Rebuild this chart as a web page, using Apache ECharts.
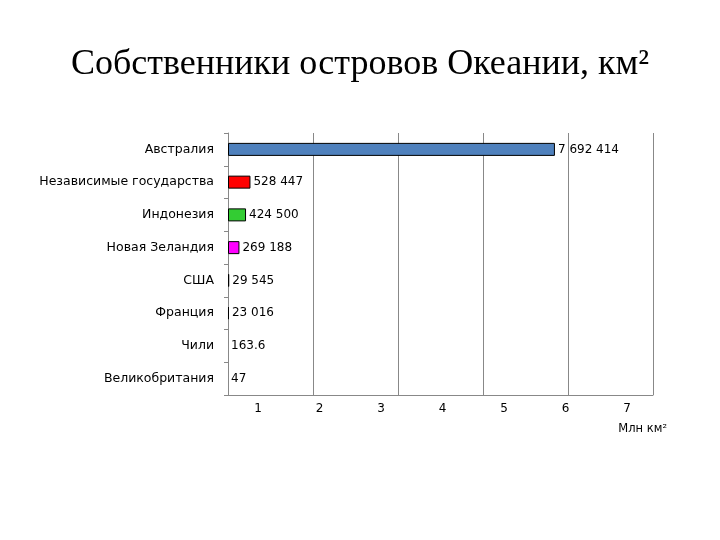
<!DOCTYPE html>
<html><head><meta charset="utf-8">
<script src="https://cdn.jsdelivr.net/npm/echarts@6/dist/echarts.min.js"></script>
<style>html,body{margin:0;background:#fff}#c{width:720px;height:540px}</style>
</head><body><div id="c"></div>
<script>
const categories = ["Австралия","Независимые государства","Индонезия","Новая Зеландия","США","Франция","Чили","Великобритания"];
const valuesMln = [7.692414, 0.528447, 0.4245, 0.269188, 0.029545, 0.023016, 0.0001636, 0.000047];
const valueLabels = ["7 692 414","528 447","424 500","269 188","29 545","23 016","163.6","47"];
const barColors = ["#4f81bd","#ff0000","#33cc33","#ff00ff","#000000","#000000","#ffffff","#ffffff"];
const tickLabels = [1,2,3,4,5,6,7];

const chart = echarts.init(document.getElementById('c'));
chart.setOption({
  animation:false,
  title:{text:"Собственники островов Океании, км²",left:'center',top:42,
    textStyle:{fontFamily:'Liberation Serif',fontSize:36,fontWeight:'normal',color:'#000'}},
  grid:{left:228,right:67,top:133,bottom:145},
  xAxis:[{type:'value',min:0,max:10,interval:2,
      axisLine:{show:true,lineStyle:{color:'#888'}},axisTick:{show:false},axisLabel:{show:false},
      splitLine:{show:true,lineStyle:{color:'#888'}}},
    {type:'value',position:'bottom',min:0.51,max:7.42,
      axisLine:{show:false},axisTick:{show:false},splitLine:{show:false},
      axisLabel:{customValues:tickLabels,color:'#000',fontFamily:'DejaVu Sans',fontSize:12,margin:8},
      name:'Млн км²',nameLocation:'end',nameGap:0,
      nameTextStyle:{fontFamily:'DejaVu Sans',fontSize:11.5,color:'#000',align:'right',verticalAlign:'top',padding:[28,-14,0,0]}}],
  yAxis:{type:'category',data:categories,inverse:true,
    axisLine:{show:true,lineStyle:{color:'#888'}},axisTick:{show:true,length:4,lineStyle:{color:'#888'}},
    axisLabel:{color:'#000',fontFamily:'DejaVu Sans',fontSize:12.5,margin:14}},
  series:[{type:'bar',xAxisIndex:0,barWidth:13,
    data:valuesMln.map((v,i)=>({value:v,itemStyle:{color:barColors[i],borderColor:'#000',borderWidth:v>0.001?1:0}})),
    label:{show:true,position:'right',distance:3,color:'#000',fontFamily:'DejaVu Sans',fontSize:12,
      formatter:p=>valueLabels[p.dataIndex]}}]
});
</script></body></html>
